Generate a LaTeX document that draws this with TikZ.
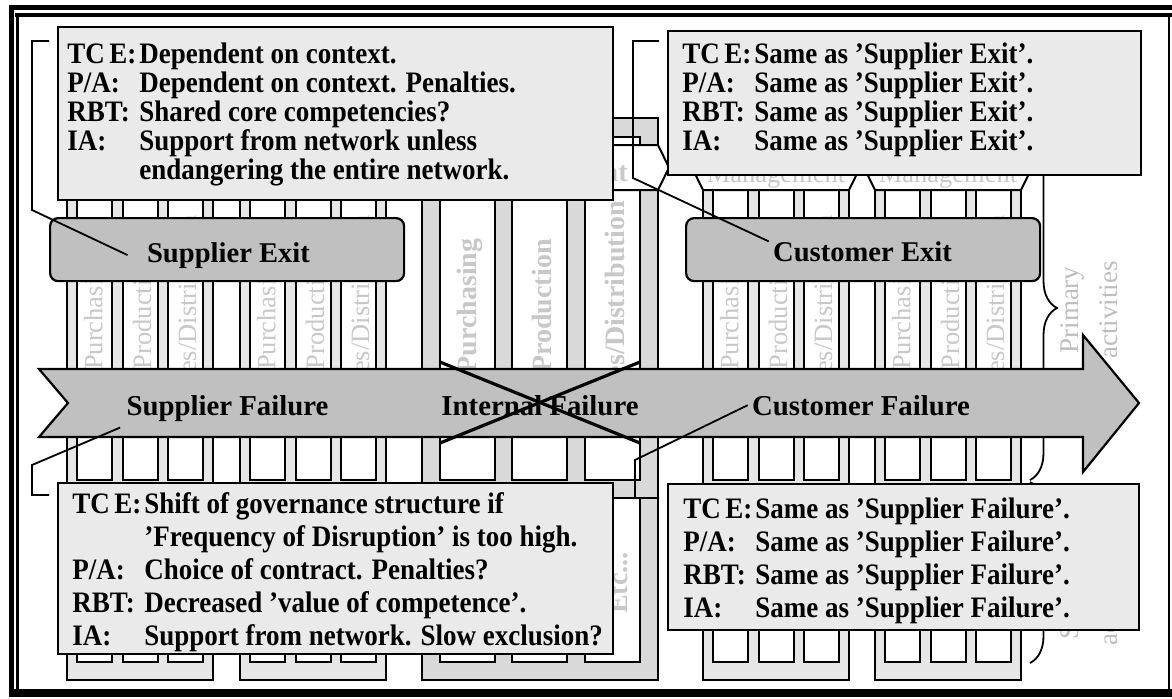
\documentclass[tikz,border=0pt]{standalone}
\usepackage{graphicx}
\usepackage{fontspec}
\setmainfont{Liberation Serif}
\usetikzlibrary{decorations.pathreplacing}
\definecolor{NoteGray}{RGB}{234,234,234}
\definecolor{BarGray}{RGB}{192,192,192}
\definecolor{FirmGray}{RGB}{230,230,230}
\definecolor{CoreGray}{RGB}{217,217,217}
\definecolor{FaintText}{RGB}{200,200,200}
\definecolor{SideGray}{RGB}{190,190,190}

\newcommand{\lbl}[1]{\makebox[36pt][l]{#1}}
\newcommand{\tall}[1]{\scalebox{1}[1.1]{#1}}

\tikzset{
  firmline/.style={draw=black, line width=1pt},
  coltext/.style={text=FaintText, font=\fontsize{13.25}{15}\selectfont, inner sep=0pt},
  coretext/.style={text=FaintText, font=\bfseries\fontsize{14}{16}\selectfont, inner sep=0pt},
  notebox/.style={draw=black, line width=1.1pt, fill=NoteGray, anchor=north west, inner sep=0pt},
  notetext/.style={anchor=base west, inner sep=0pt},
  exitbox/.style={draw=black, line width=1.1pt, fill=BarGray, rounded corners=4pt, anchor=north west, inner sep=0pt},
  barlabel/.style={font=\bfseries\fontsize{14.4}{16}\selectfont, inner sep=2pt, anchor=base},
  callout/.style={draw=black, line width=0.9pt},
  cross/.style={draw=black, line width=1.6pt},
  sidebrace/.style={decorate, decoration={brace, amplitude=13.5pt}, line width=0.9pt},
  sidetext/.style={text=SideGray, font=\fontsize{13.5}{19.5}\selectfont, align=center, rotate=90},
}

% one small value chain: #1 = left edge
\newcommand{\smallfirm}[1]{%
  \draw[firmline, fill=FirmGray] (#1,118) rectangle ({#1+146},680);
  \foreach \cx/\cname in {10/Purchasing, 56/Production, 101/{Sales/Distribution}} {
    \draw[firmline, fill=white] ({#1+\cx},137) rectangle ({#1+\cx+35},480);
    \draw[firmline, fill=white] ({#1+\cx},498) rectangle ({#1+\cx+35},662);
    \node[coltext, rotate=90] (col#1-\cx) at ({#1+\cx+19},311) {\cname};
  }
}
% management band on top of a small value chain
\newcommand{\firmband}[1]{%
  \draw[firmline, fill=white] (#1,190) -- ({#1-11},167.5) -- (#1,145) -- ({#1+146},145)
    -- ({#1+157},167.5) -- ({#1+146},190) -- cycle;
  \node[coltext, anchor=base] (mgmt#1) at ({#1+73},182) {Management};
}

\begin{document}
\begin{tikzpicture}[x=0.5pt, y=-0.5pt]
  \useasboundingbox (0,0) rectangle (1172,698);

  % Activity braces
  \draw[sidebrace] (1030,136) -- (1030,480);
  \draw[sidebrace] (1030,482) -- (1030,663);
  \node[sidetext] (primary) at (1089,310) {Primary\\activities};
  \node[sidetext] (support) at (1089,597) {Support\\activities};

  % Suppliers and customers
  \smallfirm{67}
  \smallfirm{240}
  \smallfirm{703}
  \smallfirm{875}
  \firmband{703}
  \firmband{875}

  % Focal firm
  \draw[firmline, fill=CoreGray] (422,118) rectangle (658,680);
  \foreach \cx in {440,512,585} {
    \draw[firmline, fill=white] (\cx,137) rectangle ({\cx+55},480);
    \draw[firmline, fill=white] (\cx,498) rectangle ({\cx+55},662);
  }
  \draw[firmline, fill=white] (422,190) -- (411,167.5) -- (422,145) -- (658,145)
    -- (669,167.5) -- (658,190) -- cycle;
  \node[coretext, anchor=base east] (coremgmt) at (628,181) {Management};
  \node[coretext, rotate=90] (corepur) at (469.5,306) {Purchasing};
  \node[coretext, rotate=90] (coreprod) at (541.5,306) {Production};
  \node[coretext, rotate=90] (coresales) at (614.5,308) {Sales/Distribution};
  \node[coretext, rotate=90] (coreetc) at (618.5,583) {Etc...};

  % Failure arrow
  \draw[line width=1.1pt, fill=BarGray] (39,369) -- (1083,369) -- (1083,335) -- (1139,403)
    -- (1083,472) -- (1083,437) -- (39,437) -- (68,403) -- cycle;
  \node[barlabel, inner sep=3pt] (supfail) at (227.5,415) {Supplier Failure};
  \node[barlabel] (intfail) at (540,415) {Internal Failure};
  \node[barlabel] (custfail) at (861,415) {Customer Failure};
  \draw[cross] (440,362) -- (640,443);
  \draw[cross] (640,362) -- (440,443);

  % Exit boxes
  \node[exitbox, minimum width=177pt, minimum height=31.5pt] (supbox) at (49,217) {};
  \node[exitbox, minimum width=177pt, minimum height=31.5pt] (custbox) at (685,217) {};
  \node[barlabel, font=\bfseries\fontsize{14.3}{16}\selectfont, inner xsep=9.5pt] (supexit) at (228.5,262) {Supplier Exit};
  \node[barlabel, font=\bfseries\fontsize{14.3}{16}\selectfont] (custexit) at (862.5,261) {Customer Exit};

  % Notes
  \node[notebox, minimum width=277.5pt, minimum height=86.5pt] (tlbox) at (57,26) {};
  \node[notebox, minimum width=236.5pt, minimum height=72pt] (trbox) at (667,30) {};
  \node[notebox, minimum width=277.5pt, minimum height=85.5pt] (blbox) at (57,482) {};
  \node[notebox, minimum width=235.5pt, minimum height=73pt] (brbox) at (667,483) {};

  \node[notetext, font=\bfseries\fontsize{13.5}{12.86}\selectfont] (tltext) at (67,63) {\tall{%
    \begin{tabular}[t]{@{}l@{}l@{}}
      \lbl{TC\,E:} & Dependent on context.\\
      \lbl{P/A:} & Dependent on context. Penalties.\\
      \lbl{RBT:} & Shared core competencies?\\
      \lbl{IA:} & Support from network unless\\
      & endangering the entire network.
    \end{tabular}}};
  \node[notetext, font=\bfseries\fontsize{13.5}{12.73}\selectfont] (trtext) at (682,63) {\tall{%
    \begin{tabular}[t]{@{}l@{}l@{}}
      \lbl{TC\,E:} & Same as ’Supplier Exit’.\\
      \lbl{P/A:} & Same as ’Supplier Exit’.\\
      \lbl{RBT:} & Same as ’Supplier Exit’.\\
      \lbl{IA:} & Same as ’Supplier Exit’.
    \end{tabular}}};
  \node[notetext, font=\bfseries\fontsize{13.5}{15}\selectfont] (bltext) at (72,513) {\tall{%
    \begin{tabular}[t]{@{}l@{}l@{}}
      \lbl{TC\,E:} & Shift of governance structure if\\
      & ’Frequency of Disruption’ is too high.\\
      \lbl{P/A:} & Choice of contract. Penalties?\\
      \lbl{RBT:} & Decreased ’value of competence’.\\
      \lbl{IA:} & Support from network. Slow exclusion?
    \end{tabular}}};
  \node[notetext, font=\bfseries\fontsize{13.5}{15}\selectfont] (brtext) at (683,518) {\tall{%
    \begin{tabular}[t]{@{}l@{}l@{}}
      \lbl{TC\,E:} & Same as ’Supplier Failure’.\\
      \lbl{P/A:} & Same as ’Supplier Failure’.\\
      \lbl{RBT:} & Same as ’Supplier Failure’.\\
      \lbl{IA:} & Same as ’Supplier Failure’.
    \end{tabular}}};

  % Callout lines
  \coordinate (tlhook) at (49,41);
  \coordinate (trhook) at (659,41);
  \coordinate (blhook) at (49,495);
  \coordinate (brhook) at (659,498);
  \draw[callout] (tlhook) -- (32,41) -- (32,210) -- (supexit.west);
  \draw[callout] (trhook) -- (633,41) -- (633,178) -- (custexit.174);
  \draw[callout] (blhook) -- (32,495) -- (32,465) -- (supfail.south west);
  \draw[callout] (brhook) -- (635,498) -- (635,460) -- (custfail.west);

  % Frame
  \fill (9,5) rectangle (1172,9.5);
  \fill (15,13) rectangle (1172,17);
  \fill (9,5) rectangle (13.5,697);
  \fill (16,15) rectangle (19,689);
  \fill (9,688.5) rectangle (1172,697);
  \fill (1167.5,15) rectangle (1169.5,689);
\end{tikzpicture}
\end{document}
